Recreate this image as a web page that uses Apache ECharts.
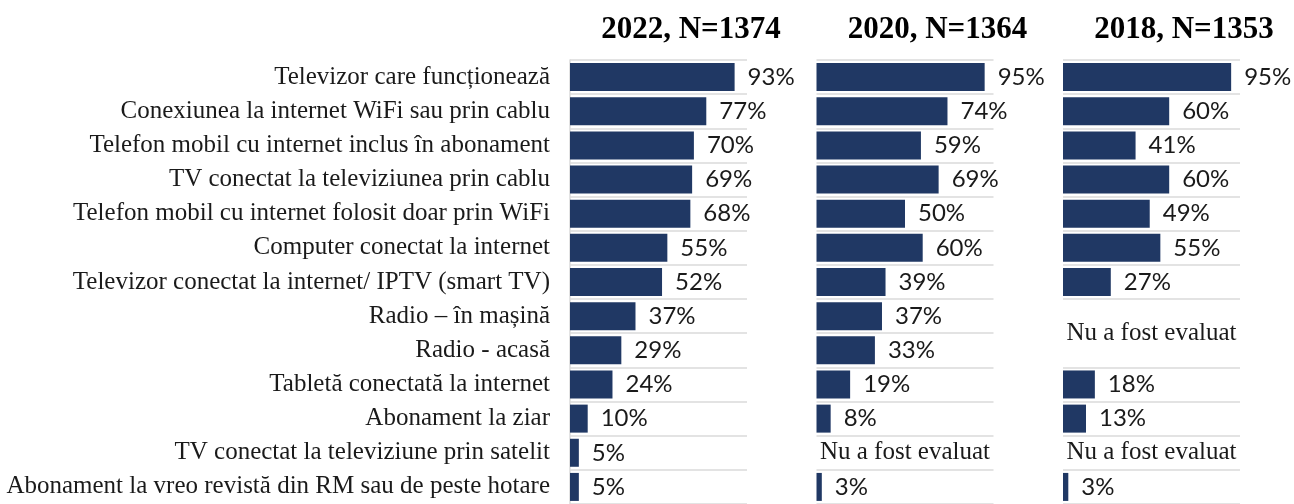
<!DOCTYPE html>
<html>
<head>
<meta charset="utf-8">
<script src="https://cdn.jsdelivr.net/npm/echarts@6/dist/echarts.min.js"></script>
<style>
  html, body { margin: 0; padding: 0; background: #ffffff; }
  #chart { width: 1294px; height: 504px; }
</style>
</head>
<body>
<div id="chart"></div>
<script>
// Device ownership by survey wave (share of respondents, %)
const categories = [
  'Televizor care funcționează',
  'Conexiunea la internet WiFi sau prin cablu',
  'Telefon mobil cu internet inclus în abonament',
  'TV conectat la televiziunea prin cablu',
  'Telefon mobil cu internet folosit doar prin WiFi',
  'Computer conectat la internet',
  'Televizor conectat la internet/ IPTV (smart TV)',
  'Radio – în mașină',
  'Radio - acasă',
  'Tabletă conectată la internet',
  'Abonament la ziar',
  'TV conectat la televiziune prin satelit',
  'Abonament la vreo revistă din RM sau de peste hotare'
];
const panelTitles = ['2022, N=1374', '2020, N=1364', '2018, N=1353'];
// null = item not included in that wave
const values2022 = [93, 77, 70, 69, 68, 55, 52, 37, 29, 24, 10, 5, 5];
const values2020 = [95, 74, 59, 69, 50, 60, 39, 37, 33, 19, 8, null, 3];
const values2018 = [95, 60, 41, 60, 49, 55, 27, null, null, 18, 13, null, 3];
const notEvaluatedText = 'Nu a fost evaluat';

const panels = [values2022, values2020, values2018];

const BAR_COLOR = '#203864';
const TEXT_COLOR = '#1a1a1a';
const LINE_COLOR = '#dadada';
const SERIF = '"Liberation Serif", "DejaVu Serif", serif';
const SANS = 'Lato, "Noto Sans", sans-serif';

const gridTop = 60;
const gridHeight = 447.2;
const gridWidth = 177;
const firstLeft = 570;
const panelStep = 246.5;
const rowPitch = gridHeight / categories.length;

// Group consecutive missing values into merged cells
function missingRuns(values) {
  const runs = [];
  let i = 0;
  while (i < values.length) {
    if (values[i] == null) {
      let j = i;
      while (j + 1 < values.length && values[j + 1] == null) j++;
      runs.push({ start: i, len: j - i + 1 });
      i = j + 1;
    } else {
      i++;
    }
  }
  return runs;
}

const grid = [], xAxis = [], yAxis = [], series = [], title = [];

panels.forEach((values, p) => {
  const left = firstLeft + p * panelStep;
  const runs = missingRuns(values);
  // row boundaries hidden inside merged cells
  const hiddenBoundaries = new Set();
  runs.forEach(r => { for (let k = 1; k < r.len; k++) hiddenBoundaries.add(r.start + k); });

  grid.push({ left: left, top: gridTop, width: gridWidth, height: gridHeight, containLabel: false });
  title.push({
    text: panelTitles[p],
    left: left + 116,
    top: 9,
    textAlign: 'center',
    textStyle: { fontFamily: SERIF, fontWeight: 'bold', fontSize: 31, color: '#000000' }
  });
  xAxis.push({
    gridIndex: p, type: 'value', min: 0, max: 100,
    axisLine: { show: false }, axisTick: { show: false },
    axisLabel: { show: false }, splitLine: { show: false }
  });
  yAxis.push({
    gridIndex: p, type: 'category', data: categories, inverse: true,
    axisTick: { show: false },
    axisLine: { show: p === 0, lineStyle: { color: LINE_COLOR, width: 1.5 } },
    axisLabel: {
      show: p === 0, margin: 20, color: TEXT_COLOR,
      fontFamily: SERIF, fontSize: 25
    },
    splitLine: {
      show: true,
      interval: (idx) => !hiddenBoundaries.has(idx),
      lineStyle: { color: LINE_COLOR, width: 1.5 }
    }
  });
  series.push({
    type: 'bar',
    xAxisIndex: p, yAxisIndex: p,
    data: values,
    barWidth: 28,
    itemStyle: { color: BAR_COLOR },
    label: {
      show: true, position: 'right', distance: 13,
      formatter: '{c}%', color: TEXT_COLOR,
      fontFamily: SANS, fontSize: 24
    },
    silent: true
  });
  if (runs.length) {
    series.push({
      type: 'scatter',
      xAxisIndex: p, yAxisIndex: p,
      symbolSize: 1,
      itemStyle: { color: 'rgba(0,0,0,0)', opacity: 1 },
      data: runs.map(r => ({
        value: [50, r.start],
        label: { offset: [0, (r.len - 1) * rowPitch / 2] }
      })),
      label: {
        show: true, position: 'inside',
        formatter: () => notEvaluatedText,
        color: TEXT_COLOR, fontFamily: SERIF, fontSize: 25
      },
      silent: true
    });
  }
});

const chart = echarts.init(document.getElementById('chart'), null, { renderer: 'canvas' });
chart.setOption({
  backgroundColor: '#ffffff',
  animation: false,
  title: title,
  grid: grid,
  xAxis: xAxis,
  yAxis: yAxis,
  series: series
});
</script>
</body>
</html>
